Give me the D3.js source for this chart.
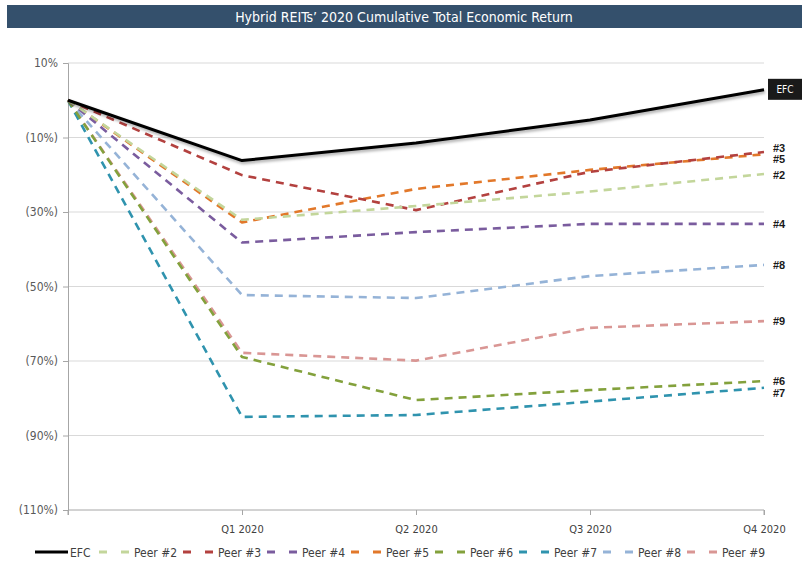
<!DOCTYPE html>
<html lang="en">
<head>
	<meta charset="utf-8">
	<title>Hybrid REITs' 2020 Cumulative Total Economic Return</title>
	<style>
		html, body { margin: 0; padding: 0; background: #ffffff; }
		svg { display: block; }
		text { font-family: "Liberation Sans Narrow", "DejaVu Sans Condensed", "Roboto", sans-serif; }
	</style>
</head>
<body>
	<script src="https://cdn.jsdelivr.net/npm/d3@7"></script>
	<script>

		// quarters (first point is the start of the year, no label)
		const periods = ["Start", "Q1 2020", "Q2 2020", "Q3 2020", "Q4 2020"];
		const yTicks = [10, -10, -30, -50, -70, -90, -110];

		// cumulative total economic return, %
		const efc = [0, -16.2, -11.5, -5.3, 2.8];
		const peer2 = [0, -32.1, -28.4, -24.5, -19.8];
		const peer3 = [0, -20.1, -29.5, -19.2, -13.9];
		const peer4 = [0, -38.2, -35.4, -33.2, -33.2];
		const peer5 = [0, -32.8, -23.8, -18.7, -14.5];
		const peer6 = [0, -68.9, -80.5, -77.8, -75.4];
		const peer7 = [0, -85.0, -84.5, -80.9, -77.2];
		const peer8 = [0, -52.3, -53.1, -47.2, -44.2];
		const peer9 = [0, -67.8, -69.9, -61.1, -59.3];

		const seriesNames = ["EFC", "Peer #2", "Peer #3", "Peer #4", "Peer #5", "Peer #6", "Peer #7", "Peer #8", "Peer #9"];
		const seriesValues = [efc, peer2, peer3, peer4, peer5, peer6, peer7, peer8, peer9];
		const endLabels = ["EFC", "#2", "#3", "#4", "#5", "#6", "#7", "#8", "#9"];
		const colors = ["#000000", "#c3d69b", "#b3413f", "#7a5c9e", "#e2782a", "#83a13c", "#2f93ae", "#95b3d7", "#d99694"];

		const W = 802, H = 567;
		const svg = d3.select(document.body)
			.append("svg")
			.attr("width", W)
			.attr("height", H);

		const defs = svg.append("defs");
		const shadow = defs.append("filter")
			.attr("id", "shadow")
			.attr("x", "-5%").attr("y", "-20%")
			.attr("width", "110%").attr("height", "160%");
		shadow.append("feDropShadow")
			.attr("dx", 1).attr("dy", 2)
			.attr("stdDeviation", 1.5)
			.attr("flood-color", "#000")
			.attr("flood-opacity", 0.35);

		// title bar
		svg.append("rect")
			.attr("x", 7).attr("y", 5)
			.attr("width", W - 7).attr("height", 23)
			.attr("fill", "#34506c");
		svg.append("text")
			.attr("x", 404).attr("y", 21.5)
			.attr("text-anchor", "middle")
			.attr("fill", "#ffffff")
			.attr("font-size", 14)
			.text("Hybrid REITs\u2019 2020 Cumulative Total Economic Return");

		const x = d3.scalePoint()
			.domain(periods)
			.range([68, 764]);

		const y = d3.scaleLinear()
			.domain([-110, 10])
			.range([510, 63]);

		// gridlines
		svg.append("g")
			.selectAll("line")
			.data(yTicks.filter(d => d !== -110))
			.join("line")
			.attr("x1", 68).attr("x2", 764)
			.attr("y1", d => y(d)).attr("y2", d => y(d))
			.attr("stroke", "#d9d9d9")
			.attr("stroke-width", 1);

		// y axis
		const yAxis = svg.append("g")
			.attr("transform", "translate(68,0)")
			.call(d3.axisLeft(y)
				.tickValues(yTicks)
				.tickSize(5)
				.tickPadding(5)
				.tickFormat(d => d < 0 ? `(${Math.abs(d)}%)` : `${d}%`));
		yAxis.select(".domain").attr("stroke", "#a6a6a6");
		yAxis.selectAll(".tick line").attr("stroke", "#a6a6a6");
		yAxis.selectAll("text")
			.attr("fill", "#595959")
			.attr("font-size", 12)
			.style("font-family", "\"Liberation Sans Narrow\", \"DejaVu Sans Condensed\", sans-serif");

		// x axis
		const xAxis = svg.append("g")
			.attr("transform", `translate(0,${y(-110)})`)
			.call(d3.axisBottom(x)
				.tickSize(5)
				.tickPadding(10)
				.tickFormat(d => d === "Start" ? "" : d));
		xAxis.select(".domain").attr("stroke", "#a6a6a6").attr("d", `M68,5V0H764V5`);
		xAxis.selectAll(".tick line").attr("stroke", "#a6a6a6");
		xAxis.selectAll("text")
			.attr("fill", "#404040")
			.attr("font-size", 11)
			.style("font-family", "\"Liberation Sans Narrow\", \"DejaVu Sans Condensed\", sans-serif");

		const line = d3.line()
			.x((d, i) => x(periods[i]))
			.y(d => y(d));

		// peers first, EFC drawn on top
		const order = [8, 7, 6, 5, 4, 3, 2, 1, 0];
		svg.append("g")
			.selectAll("path")
			.data(order)
			.join("path")
			.attr("d", i => line(seriesValues[i]))
			.attr("fill", "none")
			.attr("stroke", i => colors[i])
			.attr("stroke-width", i => i === 0 ? 3 : 2.6)
			.attr("stroke-dasharray", i => i === 0 ? null : "8,6")
			.attr("stroke-linejoin", "round")
			.attr("filter", i => i === 0 ? "url(#shadow)" : null);

		// end labels
		const labelOffsets = { "#3": -4, "#5": 5, "#2": 1, "#6": 0, "#7": 5 };
		const endG = svg.append("g");
		seriesValues.forEach((vals, i) => {
			const yy = y(vals[vals.length - 1]);
			if (i === 0) {
				endG.append("rect")
					.attr("x", 768).attr("y", yy - 11)
					.attr("width", 34).attr("height", 21)
					.attr("fill", "#1a1a1a");
				endG.append("text")
					.attr("x", 785).attr("y", yy + 3.5)
					.attr("text-anchor", "middle")
					.attr("fill", "#ffffff")
					.attr("font-size", 10)
					.text(endLabels[i]);
			} else {
				const off = labelOffsets[endLabels[i]] || 0;
				endG.append("text")
					.attr("x", 773).attr("y", yy + off + 4)
					.attr("fill", "#1a1a1a")
					.attr("font-size", 11)
					.attr("font-weight", "bold")
					.style("font-family", "\"Liberation Sans\", Arial, sans-serif")
					.text(endLabels[i]);
			}
		});

		// legend
		const legend = svg.append("g").attr("transform", "translate(0,552)");
		const item = legend.selectAll("g")
			.data(seriesNames)
			.join("g")
			.attr("transform", (d, i) => `translate(${i === 0 ? 35 : 15 + i * 84},0)`);
		item.append("line")
			.attr("x1", 0)
			.attr("x2", (d, i) => i === 0 ? 33 : 30)
			.attr("y1", 0).attr("y2", 0)
			.attr("stroke", (d, i) => colors[i])
			.attr("stroke-width", 3)
			.attr("stroke-dasharray", (d, i) => i === 0 ? null : "8,14");
		item.append("text")
			.attr("x", (d, i) => i === 0 ? 35 : 35)
			.attr("y", 4.5)
			.attr("fill", "#404040")
			.attr("font-size", 12)
			.text(d => d);

	</script>
</body>
</html>
